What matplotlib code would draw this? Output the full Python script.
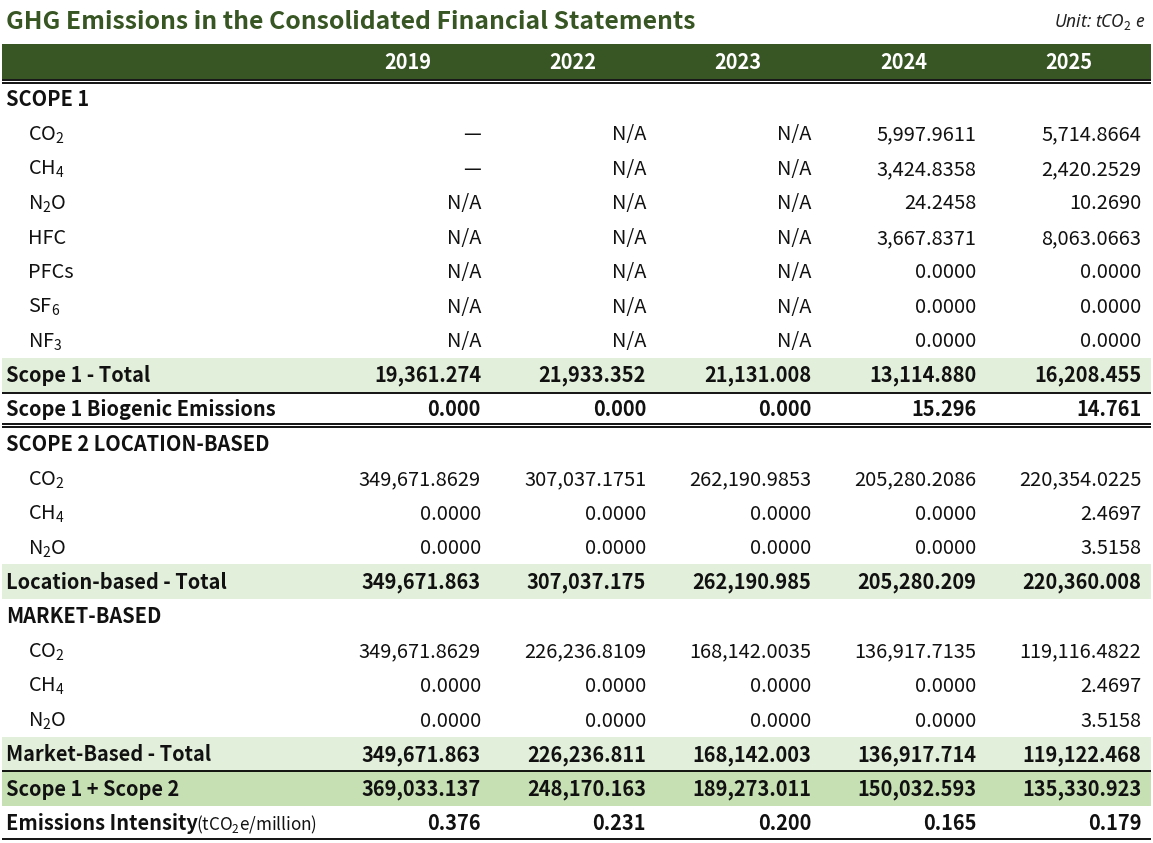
import matplotlib.pyplot as plt
from matplotlib.patches import Rectangle

# =============================
# Table data
# =============================
years = ["2019", "2022", "2023", "2024", "2025"]

# (label, kind) kind: section / item / total / plain / grand
row_labels = [
    ("SCOPE 1", "section"),
    ("CO$_2$", "item"),
    ("CH$_4$", "item"),
    ("N$_2$O", "item"),
    ("HFC", "item"),
    ("PFCs", "item"),
    ("SF$_6$", "item"),
    ("NF$_3$", "item"),
    ("Scope 1 - Total", "total"),
    ("Scope 1 Biogenic Emissions", "plain"),
    ("SCOPE 2 LOCATION-BASED", "section"),
    ("CO$_2$", "item"),
    ("CH$_4$", "item"),
    ("N$_2$O", "item"),
    ("Location-based - Total", "total"),
    ("MARKET-BASED", "section"),
    ("CO$_2$", "item"),
    ("CH$_4$", "item"),
    ("N$_2$O", "item"),
    ("Market-Based - Total", "total"),
    ("Scope 1 + Scope 2", "grand"),
    ("Emissions Intensity", "plain"),
]

values = [
    None,
    ["—", "N/A", "N/A", "5,997.9611", "5,714.8664"],
    ["—", "N/A", "N/A", "3,424.8358", "2,420.2529"],
    ["N/A", "N/A", "N/A", "24.2458", "10.2690"],
    ["N/A", "N/A", "N/A", "3,667.8371", "8,063.0663"],
    ["N/A", "N/A", "N/A", "0.0000", "0.0000"],
    ["N/A", "N/A", "N/A", "0.0000", "0.0000"],
    ["N/A", "N/A", "N/A", "0.0000", "0.0000"],
    ["19,361.274", "21,933.352", "21,131.008", "13,114.880", "16,208.455"],
    ["0.000", "0.000", "0.000", "15.296", "14.761"],
    None,
    ["349,671.8629", "307,037.1751", "262,190.9853", "205,280.2086", "220,354.0225"],
    ["0.0000", "0.0000", "0.0000", "0.0000", "2.4697"],
    ["0.0000", "0.0000", "0.0000", "0.0000", "3.5158"],
    ["349,671.863", "307,037.175", "262,190.985", "205,280.209", "220,360.008"],
    None,
    ["349,671.8629", "226,236.8109", "168,142.0035", "136,917.7135", "119,116.4822"],
    ["0.0000", "0.0000", "0.0000", "0.0000", "2.4697"],
    ["0.0000", "0.0000", "0.0000", "0.0000", "3.5158"],
    ["349,671.863", "226,236.811", "168,142.003", "136,917.714", "119,122.468"],
    ["369,033.137", "248,170.163", "189,273.011", "150,032.593", "135,330.923"],
    ["0.376", "0.231", "0.200", "0.165", "0.179"],
]

# =============================
# Style
# =============================
plt.rcParams['font.family'] = ['Noto Sans CJK KR', 'DejaVu Sans']
plt.rcParams['mathtext.fontset'] = 'custom'
plt.rcParams['mathtext.rm'] = 'Noto Sans CJK KR'
plt.rcParams['mathtext.it'] = 'Noto Sans CJK KR'
plt.rcParams['mathtext.bf'] = 'Noto Sans CJK KR:bold'
dark_green = "#375623"
light_green = "#E2EFDA"
mid_green = "#C6E0B4"
txt = "#111111"
fs = 14.4

W, H = 1153, 843
fig = plt.figure(figsize=(W / 100, H / 100), dpi=100)
ax = fig.add_axes([0, 0, 1, 1])
ax.set_xlim(0, W)
ax.set_ylim(H, 0)
ax.axis("off")

left, right = 2, 1151
first_row = 99
pitch = 34.48
half = pitch / 2
dy = 1.5  # text sits a touch below row centre
col_right = [481 + 165.1 * i for i in range(len(years))]

fig.canvas.draw()
renderer = fig.canvas.get_renderer()
inv = ax.transData.inverted()

# baseline offset that matches va="center" for plain text
tc = ax.text(0, 100, "N/A", fontsize=fs, va="center")
tb = ax.text(0, 100, "N/A", fontsize=fs, va="baseline")
bc = tc.get_window_extent(renderer).transformed(inv)
bb0 = tb.get_window_extent(renderer).transformed(inv)
base_off = max(bc.y0, bc.y1) - (max(bb0.y0, bb0.y1) - 100) - 100
tc.remove()
tb.remove()

# title + unit
ax.text(6, 22, "GHG Emissions in the Consolidated Financial Statements",
        fontsize=17.8, fontweight="bold", color=dark_green, va="center")
ax.text(1146, 22, "Unit: tCO$_2$ e", fontsize=12.5, style="italic",
        color="#222222", va="center", ha="right",
        family=["Noto Sans", "DejaVu Sans"])

# header band
ax.add_patch(Rectangle((left, 44), right - left, 34.5, color=dark_green, lw=0))
for i, yr in enumerate(years):
    ax.text(col_right[i] - 73, 62.5, yr, color="white", fontsize=fs,
            fontweight="bold", ha="center", va="center")
ax.hlines([80, 83], left, right, color="black", lw=1.3)

for r, (label, kind) in enumerate(row_labels):
    yc = first_row + r * pitch
    yb = yc + dy + base_off
    if kind == "total":
        ax.add_patch(Rectangle((left, yc - half), right - left, pitch,
                               color=light_green, lw=0, zorder=0))
    elif kind == "grand":
        ax.add_patch(Rectangle((left, yc - half), right - left, pitch,
                               color=mid_green, lw=0, zorder=0))
    bold = kind != "item"
    x0 = 28 if kind == "item" else 6
    t = ax.text(x0, yb, label, fontsize=fs,
                fontweight="bold" if bold else "normal",
                va="baseline", color=txt)
    if label == "Emissions Intensity":
        bb = t.get_window_extent(renderer).transformed(inv)
        ax.text(bb.x1 - 2, yb, "(tCO$_2$e/million)", fontsize=12.3,
                va="baseline", color=txt)
    if values[r] is not None:
        for i, v in enumerate(values[r]):
            ax.text(col_right[i], yb, v, fontsize=fs, ha="right", va="baseline",
                    fontweight="bold" if bold else "normal", color=txt)

# rules
ax.hlines(first_row + 8.5 * pitch + 0.5, left, right, color="black", lw=1.3)
ax.hlines([first_row + 9.5 * pitch - 2.5, first_row + 9.5 * pitch + 0.5],
          left, right, color="black", lw=1.3)
ax.hlines(first_row + 19.5 * pitch, left, right, color="black", lw=1.3)
ax.hlines(first_row + 21.5 * pitch - 1.5, left, right, color="black", lw=1.3)

fig.savefig("out.png", dpi=100)
